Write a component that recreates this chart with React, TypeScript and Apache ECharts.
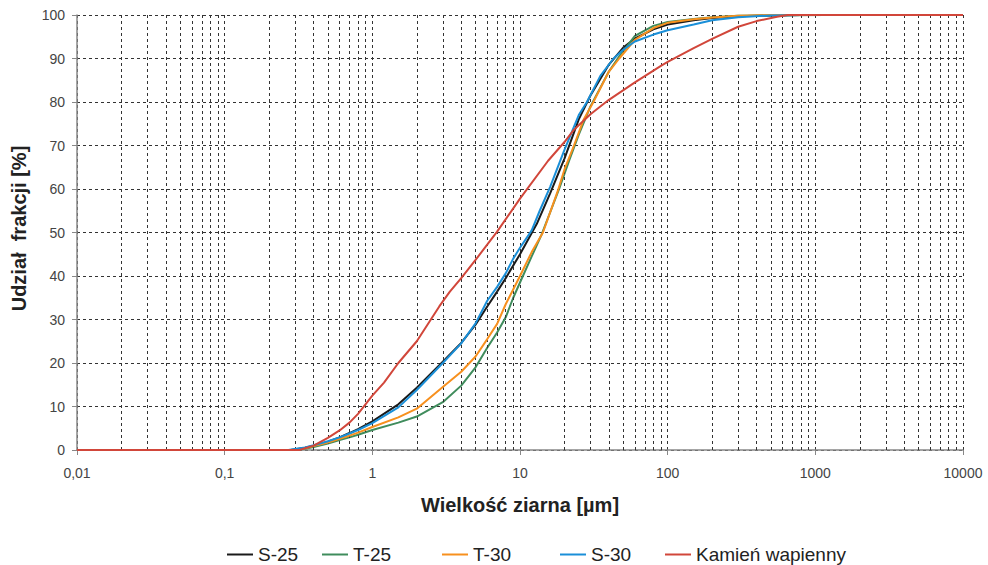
import React, { useEffect, useRef } from "react";
import * as echarts from "echarts";

const seriesNames = ["S-25", "T-25", "T-30", "S-30", "Kamień wapienny"];
const seriesColors = ["#1a1a1a", "#3f8c5c", "#f7901e", "#1a8fd8", "#d1463a"];

const s25: [number, number][] = [
  [0.01, 0], [0.28, 0], [0.35, 0.5], [0.4, 1], [0.5, 1.9], [0.6, 2.9], [0.7, 3.9], [0.8, 4.8],
  [1, 6.6], [1.5, 10.5], [2, 14.3], [3, 20.3], [4, 24.6], [5, 28.8], [6, 33], [7, 36.4], [8, 39.5],
  [10, 45], [13, 52], [16, 59], [20, 67], [25, 76], [30, 81.5], [40, 88.6], [50, 92.5], [60, 94.6],
  [80, 96.7], [100, 97.8], [150, 98.8], [200, 99.3], [300, 99.7], [500, 99.9], [800, 100], [1000, 100],
];
const t25: [number, number][] = [
  [0.01, 0], [0.3, 0], [0.35, 0.3], [0.4, 0.7], [0.5, 1.5], [0.6, 2.3], [0.7, 2.9], [0.8, 3.5],
  [1, 4.6], [1.5, 6.3], [2, 7.7], [3, 11], [4, 14.8], [5, 19], [6, 23.5], [7, 27], [8, 30.5],
  [9, 35], [10, 38.5], [12, 44.5], [14, 49.5], [18.4, 60], [21.6, 66.7], [25, 72.5], [30, 79],
  [40, 87], [47, 90.5], [60, 95.2], [80, 97.5], [100, 98.4], [150, 99.1], [200, 99.5], [300, 99.8],
  [500, 99.9], [1150, 100],
];
const t30: [number, number][] = [
  [0.01, 0], [0.29, 0], [0.35, 0.4], [0.4, 0.9], [0.5, 1.7], [0.6, 2.6], [0.7, 3.3], [0.8, 4],
  [1, 5.3], [1.5, 7.5], [2, 9.5], [3, 14.5], [4, 18], [5, 21.5], [6, 25.5], [7, 29], [8, 33.5],
  [10, 40], [12, 45.5], [14.3, 50], [18, 59.5], [20, 64.5], [23.2, 70], [27, 76], [31.4, 80],
  [40, 87], [47, 90], [60, 94.3], [80, 97], [100, 98.2], [150, 99], [200, 99.4], [300, 99.8],
  [500, 100], [1000, 100],
];
const s30: [number, number][] = [
  [0.01, 0], [0.27, 0], [0.35, 0.6], [0.4, 1.1], [0.5, 2], [0.6, 2.9], [0.7, 3.8], [0.8, 4.6],
  [1, 6.2], [1.5, 9.8], [2, 13.8], [3, 20], [4, 24.5], [5, 29.1], [6, 34.3], [7, 37.5], [8, 40.6],
  [9, 44], [10, 46.5], [12, 50.5], [13.6, 55], [16, 60.5], [20, 69], [25, 77], [28.4, 80], [35, 86],
  [43, 90], [50, 92], [60, 93.9], [80, 95.5], [100, 96.5], [150, 97.8], [200, 98.8], [300, 99.5],
  [500, 99.9], [800, 100], [1000, 100],
];
const kamien: [number, number][] = [
  [0.01, 0], [0.32, 0], [0.4, 1], [0.5, 2.8], [0.6, 4.5], [0.7, 6.3], [0.8, 8.3], [1, 12.5],
  [1.2, 15.5], [1.5, 20], [2, 25], [2.84, 33], [3.35, 36.4], [4, 39.5], [5, 43.7], [7, 50.2],
  [10, 57.8], [15.5, 66.5], [20, 70.8], [23, 73.5], [30, 77.2], [40, 80.5], [60, 84.5], [90, 88.3],
  [100, 89.2], [150, 92.4], [200, 94.5], [300, 97.3], [400, 98.6], [550, 99.6], [650, 100],
  [10000, 100],
];
const seriesData = [s25, t25, t30, s30, kamien];

const decades = [0.01, 0.1, 1, 10, 100, 1000];
const minorMultipliers = [2, 3, 4, 5, 6, 7, 8, 9];
const legendLefts = [222, 317, 437, 555, 660];

export default function App() {
  const ref = useRef<HTMLDivElement>(null);
  useEffect(() => {
    document.body.style.margin = "0";
    if (!ref.current) return;
    const chart = echarts.init(ref.current, null, { renderer: "svg" });
    const minorLines = decades.flatMap((d) =>
      minorMultipliers.map((k) => ({ xAxis: Number((d * k).toPrecision(3)) }))
    );
    const gridDash = { type: [3, 3] as any, color: "#333", width: 1 };
    const font = "Liberation Sans, Arial, sans-serif";
    const option: any = {
      animation: false,
      backgroundColor: "#fff",
      textStyle: { fontFamily: font },
      grid: { left: 77, right: 25, top: 15, bottom: 115 },
      legend: seriesNames.map((name, i) => ({
        data: [name],
        left: legendLefts[i],
        top: 540,
        icon: "rect",
        itemWidth: 26,
        itemHeight: 2,
        itemGap: 0,
        textStyle: { fontSize: 19, color: "#222", fontFamily: font },
      })),
      xAxis: {
        type: "log",
        logBase: 10,
        min: 0.01,
        max: 10000,
        name: "Wielkość ziarna [µm]",
        nameLocation: "middle",
        nameGap: 45,
        nameTextStyle: { fontSize: 20, fontWeight: "bold", color: "#222" },
        axisLine: { show: true, lineStyle: { color: "#888", width: 1.5 } },
        axisTick: { show: true, length: 5, lineStyle: { color: "#888" } },
        axisLabel: {
          fontSize: 14,
          color: "#444",
          margin: 16,
          formatter: (v: number) => String(Number(v.toPrecision(6))).replace(".", ","),
        },
        splitLine: { show: true, lineStyle: gridDash },
      },
      yAxis: {
        type: "value",
        min: 0,
        max: 100,
        interval: 10,
        name: "Udział  frakcji [%]",
        nameLocation: "middle",
        nameGap: 48,
        nameTextStyle: { fontSize: 20, fontWeight: "bold", color: "#222", padding: [0, 0, 0, 8] },
        axisLine: { show: true, lineStyle: { color: "#888", width: 1.5 } },
        axisTick: { show: true, length: 5, lineStyle: { color: "#888" } },
        axisLabel: { fontSize: 14, color: "#444", margin: 12 },
        splitLine: { show: true, lineStyle: gridDash },
      },
      series: [
        {
          name: "__grid",
          type: "line",
          data: [],
          silent: true,
          z: 1,
          markLine: {
            silent: true,
            symbol: "none",
            label: { show: false },
            lineStyle: gridDash,
            emphasis: { disabled: true },
            data: minorLines,
          },
        },
        ...seriesNames.map((name, i) => ({
          name,
          type: "line",
          data: seriesData[i],
          showSymbol: false,
          symbol: "none",
          z: 3 + i,
          lineStyle: { color: seriesColors[i], width: 2 },
          itemStyle: { color: seriesColors[i] },
        })),
      ],
    };
    chart.setOption(option);
    return () => chart.dispose();
  }, []);
  return <div ref={ref} style={{ width: 988, height: 565 }} />;
}
